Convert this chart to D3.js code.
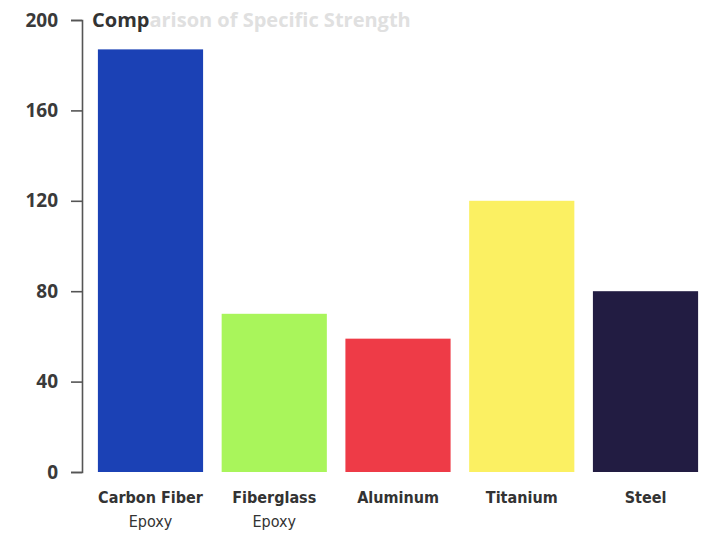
<!DOCTYPE html>
<html>
<head>
<meta charset="utf-8">
<script src="https://cdn.jsdelivr.net/npm/d3@7/dist/d3.min.js"></script>
<style>
  html, body { margin: 0; padding: 0; background: #ffffff; }
  svg { display: block; }
  .axis path, .axis line { stroke: #555; stroke-width: 1.6; }
  .axis text { font-family: "Open Sans", "DejaVu Sans", sans-serif; font-weight: 700; font-size: 19px; fill: #3a3a3a; }
  .cat { font-family: "Liberation Sans Narrow", "DejaVu Sans Condensed", "Roboto Condensed", sans-serif; font-weight: 700; font-size: 16px; fill: #333; }
</style>
</head>
<body>
<script>
// Specific strength by material
const materials = ["Carbon Fiber Epoxy", "Fiberglass Epoxy", "Aluminum", "Titanium", "Steel"];
const labelLines = [["Carbon Fiber", "Epoxy"], ["Fiberglass", "Epoxy"], ["Aluminum"], ["Titanium"], ["Steel"]];
const strength = [187, 70, 59, 120, 80];
const barColors = ["#1b41b5", "#a9f55b", "#ee3b47", "#fbf062", "#221c42"];
const yTicks = [0, 40, 80, 120, 160, 200];

const W = 702, H = 534;
const svg = d3.select("body").append("svg").attr("width", W).attr("height", H);

const x = d3.scaleBand().domain(materials).range([88, 708]).paddingInner(0.15).paddingOuter(0.08);
const y = d3.scaleLinear().domain([0, 200]).range([472, 20]);

// Title (first word dark, the rest faded)
const title = svg.append("text")
  .attr("x", 92).attr("y", 27)
  .style("font-family", "'Open Sans', sans-serif")
  .style("font-weight", 700).style("font-size", "20px");
title.append("tspan").attr("fill", "#333").text("Comp");
title.append("tspan").attr("fill", "#e0e0e0").text("arison of Specific Strength");

// Y axis
svg.append("g")
  .attr("class", "axis")
  .attr("transform", "translate(82,0)")
  .call(d3.axisLeft(y).tickValues(yTicks).tickSize(11).tickPadding(13).tickFormat(d3.format("d")));

// Bars
svg.append("g").selectAll("rect")
  .data(materials)
  .join("rect")
  .attr("x", d => x(d))
  .attr("width", x.bandwidth())
  .attr("y", (d, i) => y(strength[i]))
  .attr("height", (d, i) => y(0) - y(strength[i]))
  .attr("fill", (d, i) => barColors[i]);

// Category labels
const labels = svg.append("g").selectAll("text")
  .data(materials)
  .join("text")
  .attr("class", "cat")
  .attr("text-anchor", "middle")
  .attr("x", d => x(d) + x.bandwidth() / 2)
  .attr("y", 503);
labels.selectAll("tspan")
  .data((d, i) => labelLines[i])
  .join("tspan")
  .attr("x", function () { return d3.select(this.parentNode).attr("x"); })
  .attr("dy", (d, j) => j === 0 ? 0 : 24)
  .style("font-weight", (d, j) => j === 0 ? 700 : 400)
  .text(d => d);
</script>
</body>
</html>
